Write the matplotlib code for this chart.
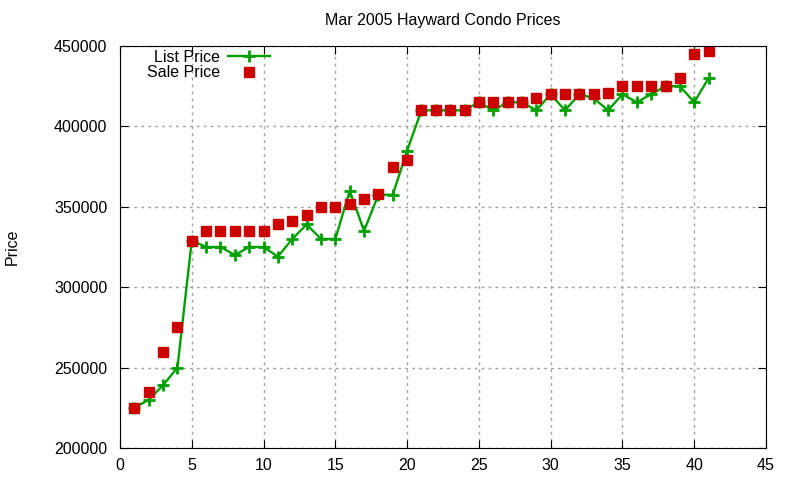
import matplotlib
matplotlib.use("Agg")
from matplotlib import pyplot as plt
import numpy as np

plt.rcParams['font.family'] = ['Liberation Sans', 'DejaVu Sans']

# data
days = list(range(1, 42))
list_price = [225000, 230000, 239000, 250000, 329000, 325000, 325000, 320000, 325000, 325000,
              319000, 330000, 339000, 330000, 330000, 360000, 335000, 357500, 357500, 385000,
              410000, 410000, 410000, 410000, 415000, 410000, 415000, 415000, 410000, 420000,
              410000, 420000, 417500, 410000, 420000, 415000, 420000, 425000, 425000, 415000,
              430000]
sale_price = [225000, 235000, 260000, 275000, 329000, 335000, 335000, 335000, 335000, 335000,
              339000, 341000, 345000, 350000, 350000, 352000, 355000, 358000, 375000, 379000,
              410000, 410000, 410000, 410000, 415000, 415000, 415000, 415000, 417500, 420000,
              420000, 420000, 420000, 421000, 425000, 425000, 425000, 425000, 430000, 445000,
              447000]

fig = plt.figure(figsize=(8, 4.8), dpi=100)
ax = fig.add_axes([0.15, 0.0667, 0.8075, 0.8375])

ax.plot(days, list_price, color='#00a000', lw=1.7, marker='+', ms=9, mew=2, label='List Price')
ax.plot(days, sale_price, ls='none', color='#cc0000', marker='s', ms=6.5, label='Sale Price')

ax.set_xlim(0, 45)
ax.set_ylim(200000, 450000)
ax.set_xticks(np.arange(0, 46, 5))
ax.set_yticks(np.arange(200000, 450001, 50000))
ax.tick_params(direction='in', top=True, right=True, length=6, labelsize=11.5)
ax.tick_params(axis='x', pad=7)
ax.tick_params(axis='y', pad=9)
ax.grid(True, color='#a0a0a0', ls=(0, (2, 3)), lw=1)
ax.set_axisbelow(True)

ax.set_title("Mar 2005 Hayward Condo Prices", fontsize=11.5, pad=15)
ax.set_ylabel("Price", fontsize=11.5, va='center')
ax.yaxis.set_label_coords(-0.167, 0.5)

leg = ax.legend(loc='upper left', bbox_to_anchor=(0.02, 1.027), frameon=False, markerfirst=False,
                fontsize=11.5, handlelength=2.6, labelspacing=0.05, handletextpad=0.5)

fig.savefig('out.png')
